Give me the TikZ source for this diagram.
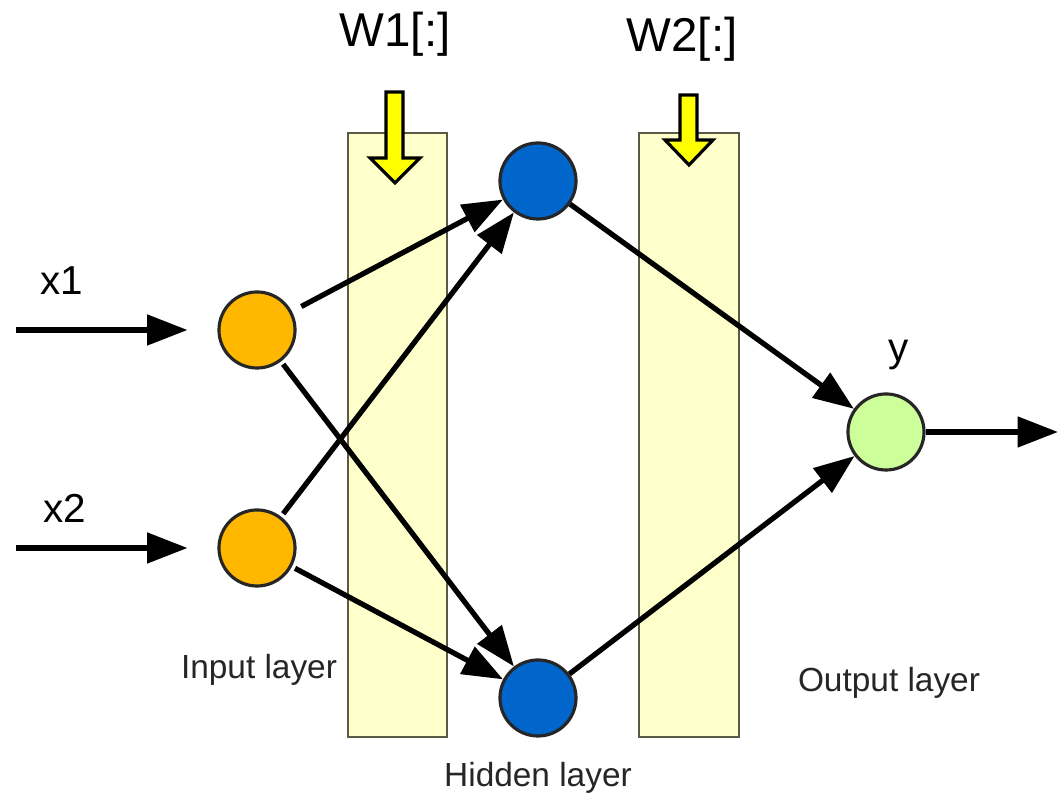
\documentclass[tikz,border=0pt]{standalone}
\usepackage{fontspec}
\setmainfont{Liberation Sans}
\usetikzlibrary{arrows.meta}
\definecolor{inorange}{RGB}{255,183,0}
\definecolor{hidblue}{RGB}{0,102,204}
\definecolor{outgreen}{RGB}{204,255,153}
\definecolor{bandfill}{RGB}{255,255,204}
\definecolor{bandline}{RGB}{90,90,70}
\definecolor{wyellow}{RGB}{255,255,0}
\begin{document}
\begin{tikzpicture}[x=0.01cm,y=-0.01cm,
  neuron/.style={circle,draw=black!85,line width=0.9pt,minimum size=0.76cm,inner sep=0pt},
  band/.style={draw=bandline,line width=0.7pt,fill=bandfill},
  warrow/.style={draw=black,line width=0.9pt,fill=wyellow,line join=miter},
  conn/.style={line width=1.5pt,-{Triangle[length=11.5pt,width=8.5pt]}},
  biglabel/.style={font=\fontsize{13.5}{16}\selectfont,inner sep=0pt,anchor=base},
  varlabel/.style={font=\fontsize{11.5}{14}\selectfont,inner sep=0pt,anchor=base},
  layerlabel/.style={font=\fontsize{9.5}{12}\selectfont,text=black!85,inner sep=0pt,anchor=base}]
\useasboundingbox (0,0) rectangle (1059,801);
% weight bands
\path[band] (348,133) rectangle (447,737);
\path[band] (639,133) rectangle (739,737);
% yellow block arrows
\path[warrow] (386,92) -- (403,92) -- (403,158) -- (420,158) -- (395,183) -- (370,158) -- (386,158) -- cycle;
\path[warrow] (680,95) -- (697,95) -- (697,140) -- (713,140) -- (689,165) -- (665,140) -- (680,140) -- cycle;
% labels
\node[biglabel] (w1) at (395,47) {W1[:]};
\node[biglabel] (w2) at (682,52) {W2[:]};
\node[varlabel,anchor=base west] (lx1) at (40,295) {x1};
\node[varlabel,anchor=base west] (lx2) at (43,523) {x2};
\node[varlabel] (ly) at (899,362) {y};
\node[layerlabel] (lin) at (259,679) {Input layer};
\node[layerlabel] (lhid) at (538,787) {Hidden layer};
\node[layerlabel] (lout) at (889,692) {Output layer};
% neurons
\node[neuron,fill=inorange] (i1) at (257,330) {};
\node[neuron,fill=inorange] (i2) at (257,548) {};
\node[neuron,fill=hidblue] (h1) at (538,181) {};
\node[neuron,fill=hidblue] (h2) at (538,698) {};
\node[neuron,fill=outgreen] (o) at (886,432) {};
% free ends
\coordinate (s1) at (16,330);
\coordinate (s2) at (16,548);
\coordinate (e) at (1058,432);
% connectors
\draw[conn,shorten >=8.5pt] (s1) -- (i1.west);
\draw[conn,shorten >=8.5pt] (s2) -- (i2.west);
\draw[conn,shorten <=3pt] (i1) -- (h1);
\draw[conn,shorten <=1pt] (i1) -- (h2);
\draw[conn,shorten <=1pt] (i2) -- (h1);
\draw[conn,shorten <=1pt] (i2) -- (h2);
\draw[conn] (h1) -- (o);
\draw[conn] (h2) -- (o);
\draw[conn] (o) -- (e);
\end{tikzpicture}
\end{document}
